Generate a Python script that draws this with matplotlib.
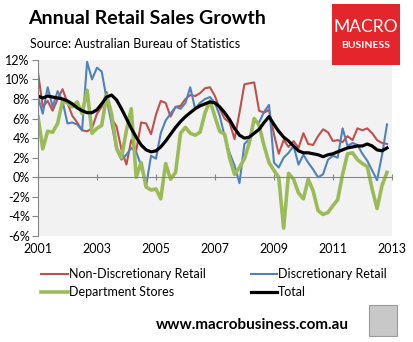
"""Annual retail sales growth (ABS) - MacroBusiness style line chart."""
import numpy as np
import pandas as pd
import matplotlib

matplotlib.use("Agg")
import matplotlib.pyplot as plt
import matplotlib.dates as mdates
from matplotlib.patches import Rectangle
from matplotlib.ticker import FuncFormatter

plt.rcParams["font.family"] = ["Lato", "DejaVu Sans"]

# ------------------------------------------------------------------ data
# bi-monthly readings, Jan 2001 .. Nov 2012, % change on a year earlier
dates = pd.date_range("2001-01-01", periods=72, freq="2MS")

non_disc = [10.7, 7.2, 7.8, 6.8, 8.0, 9.0, 7.6, 6.3, 5.6, 4.8, 4.7, 5.0,
            6.5, 7.2, 8.7, 6.0, 5.2, 2.8, 1.3, 3.8, 2.7, 5.6, 5.5, 4.4,
            6.4, 7.8, 7.6, 6.2, 7.2, 7.3, 8.0, 8.4, 8.3, 8.6, 9.1, 9.2,
            8.3, 7.0, 6.0, 5.6, 3.9, 6.6, 9.5, 9.6, 9.7, 6.8, 6.6, 6.9,
            4.4, 2.4, 3.8, 3.1, 3.7, 3.0, 4.5, 3.4, 3.3, 4.2, 4.9, 4.6,
            3.7, 3.8, 3.6, 4.2, 3.8, 5.0, 4.8, 5.0, 4.5, 3.8, 3.5, 3.4]

disc = [8.2, 6.5, 9.2, 7.2, 8.8, 7.8, 5.5, 5.6, 5.4, 4.8, 11.8, 10.0,
        11.2, 10.8, 8.0, 5.5, 2.8, 1.8, 2.3, 3.0, 2.6, 1.2, -0.9, 2.2,
        1.9, 4.5, 5.8, 6.5, 7.2, 7.0, 7.6, 9.2, 7.0, 7.6, 8.0, 8.2,
        7.6, 6.3, 4.2, 2.5, 1.2, -0.6, 3.4, 3.9, 5.8, 5.6, 6.7, 7.4,
        1.5, 1.0, 2.0, 2.5, 3.2, 1.3, 2.3, 1.5, 0.8, 0.0, 0.3, 1.8,
        2.2, 2.0, 5.0, 3.2, 3.5, 3.3, 2.4, 1.7, 0.7, -0.3, 2.3, 5.4]

dept = [6.2, 2.9, 4.7, 4.6, 5.5, 7.8, 7.6, 7.2, 7.7, 6.5, 8.9, 4.5,
        5.0, 5.3, 8.4, 6.5, 3.0, 2.0, 4.8, 7.0, 0.0, 1.5, -1.0, -1.3,
        -1.2, -2.2, 1.4, -0.2, 0.5, 4.5, 5.1, 4.5, 4.3, 4.6, 6.6, 7.8,
        6.2, 4.7, 4.4, 2.0, 0.3, 1.0, 1.9, 3.5, 6.0, 5.3, 3.2, 1.5,
        0.7, 0.0, -5.2, 0.4, -0.2, -1.6, -2.2, -0.2, -1.4, -3.4, -3.8, -3.6,
        -2.9, -2.3, 0.3, 2.4, 2.5, 1.8, 1.4, 1.1, -1.2, -3.2, -0.8, 0.5]

total = [8.3, 8.1, 8.3, 8.2, 8.1, 8.0, 7.8, 7.5, 7.1, 6.8, 6.6, 6.6,
         6.9, 7.5, 8.2, 8.4, 7.9, 7.0, 6.0, 5.0, 4.1, 3.3, 2.8, 2.6,
         2.7, 3.1, 3.7, 4.4, 5.1, 5.7, 6.2, 6.6, 7.0, 7.3, 7.5, 7.7,
         7.6, 7.2, 6.6, 5.9, 5.0, 4.3, 4.0, 4.1, 4.5, 4.9, 5.6, 6.2,
         5.4, 4.7, 4.1, 3.7, 3.2, 2.7, 2.5, 2.5, 2.4, 2.3, 2.1, 2.3,
         2.4, 2.6, 2.8, 3.0, 3.1, 3.2, 3.2, 3.4, 3.2, 2.8, 2.7, 3.0]

labels = ["Non-Discretionary Retail", "Discretionary Retail",
          "Department Stores", "Total"]
colors = ["#c0504d", "#4f81bd", "#9bbb59", "#000000"]
widths = [1.5, 1.5, 2.6, 2.3]
year_ticks = pd.to_datetime([f"{y}-01-01" for y in range(2001, 2014, 2)])

# ------------------------------------------------------------------ figure
fig = plt.figure(figsize=(4.13, 3.42), dpi=100)
ax = fig.add_axes([0.092, 0.31, 0.857, 0.515])
ax.set_facecolor("#f2f2f2")

handles = []
for series, lab, c, lw in zip([non_disc, disc, dept, total], labels, colors, widths):
    h, = ax.plot(dates, series, color=c, lw=lw, label=lab, solid_joinstyle="round")
    handles.append(h)

ax.set_ylim(-6, 12)
ax.set_yticks(np.arange(-6, 13, 2))
ax.yaxis.set_major_formatter(FuncFormatter(lambda v, _: f"{v:.0f}%"))
ax.set_xlim(pd.Timestamp("2001-01-01"), pd.Timestamp("2013-01-01"))

for s in ["top", "right"]:
    ax.spines[s].set_visible(False)
ax.spines["left"].set_color("#868686")
ax.spines["bottom"].set_position(("data", 0))
ax.spines["bottom"].set_color("#868686")
ax.set_xticks(year_ticks)
ax.tick_params(axis="x", direction="inout", length=5, color="#868686", labelbottom=False)
ax.tick_params(axis="y", direction="out", length=4, color="#868686", labelsize=9, pad=2)

# year labels sit at the bottom of the plot area, Excel style
sec = ax.secondary_xaxis(0.0)
sec.set_xticks(year_ticks)
sec.xaxis.set_major_formatter(mdates.DateFormatter("%Y"))
sec.spines["bottom"].set_visible(False)
sec.tick_params(length=0, labelsize=9, pad=5)

# legend: two rows, two columns
leg = fig.legend([handles[0], handles[2], handles[1], handles[3]],
                 [labels[0], labels[2], labels[1], labels[3]],
                 ncol=2, loc="upper left", bbox_to_anchor=(0.085, 0.235),
                 frameon=False, fontsize=9, handlelength=2.1, handletextpad=0.1,
                 columnspacing=3.6, labelspacing=0.5, borderpad=0)

# titles
fig.text(0.068, 0.945, "Annual Retail Sales Growth", fontsize=14, fontweight="bold",
         va="center", ha="left")
fig.text(0.073, 0.87, "Source: Australian Bureau of Statistics", fontsize=9,
         va="center", ha="left")

# MacroBusiness badge
fig.patches.append(Rectangle((0.804, 0.81), 0.165, 0.178, transform=fig.transFigure,
                             facecolor="#e3262b", edgecolor="none"))
fig.text(0.886, 0.92, "MACRO", color="white", fontsize=12.5, ha="center", va="center")
fig.text(0.886, 0.866, "BUSINESS", color="white", fontsize=7.5, fontweight="bold",
         ha="center", va="center")

# footer
fig.text(0.61, 0.05, "www.macrobusiness.com.au", fontsize=11, fontweight="bold",
         ha="center", va="center")
fig.patches.append(Rectangle((0.893, 0.018), 0.068, 0.09, transform=fig.transFigure,
                             facecolor="#c8c8c8", edgecolor="#9a9a9a", lw=0.8))

fig.savefig("out.png", dpi=100)
